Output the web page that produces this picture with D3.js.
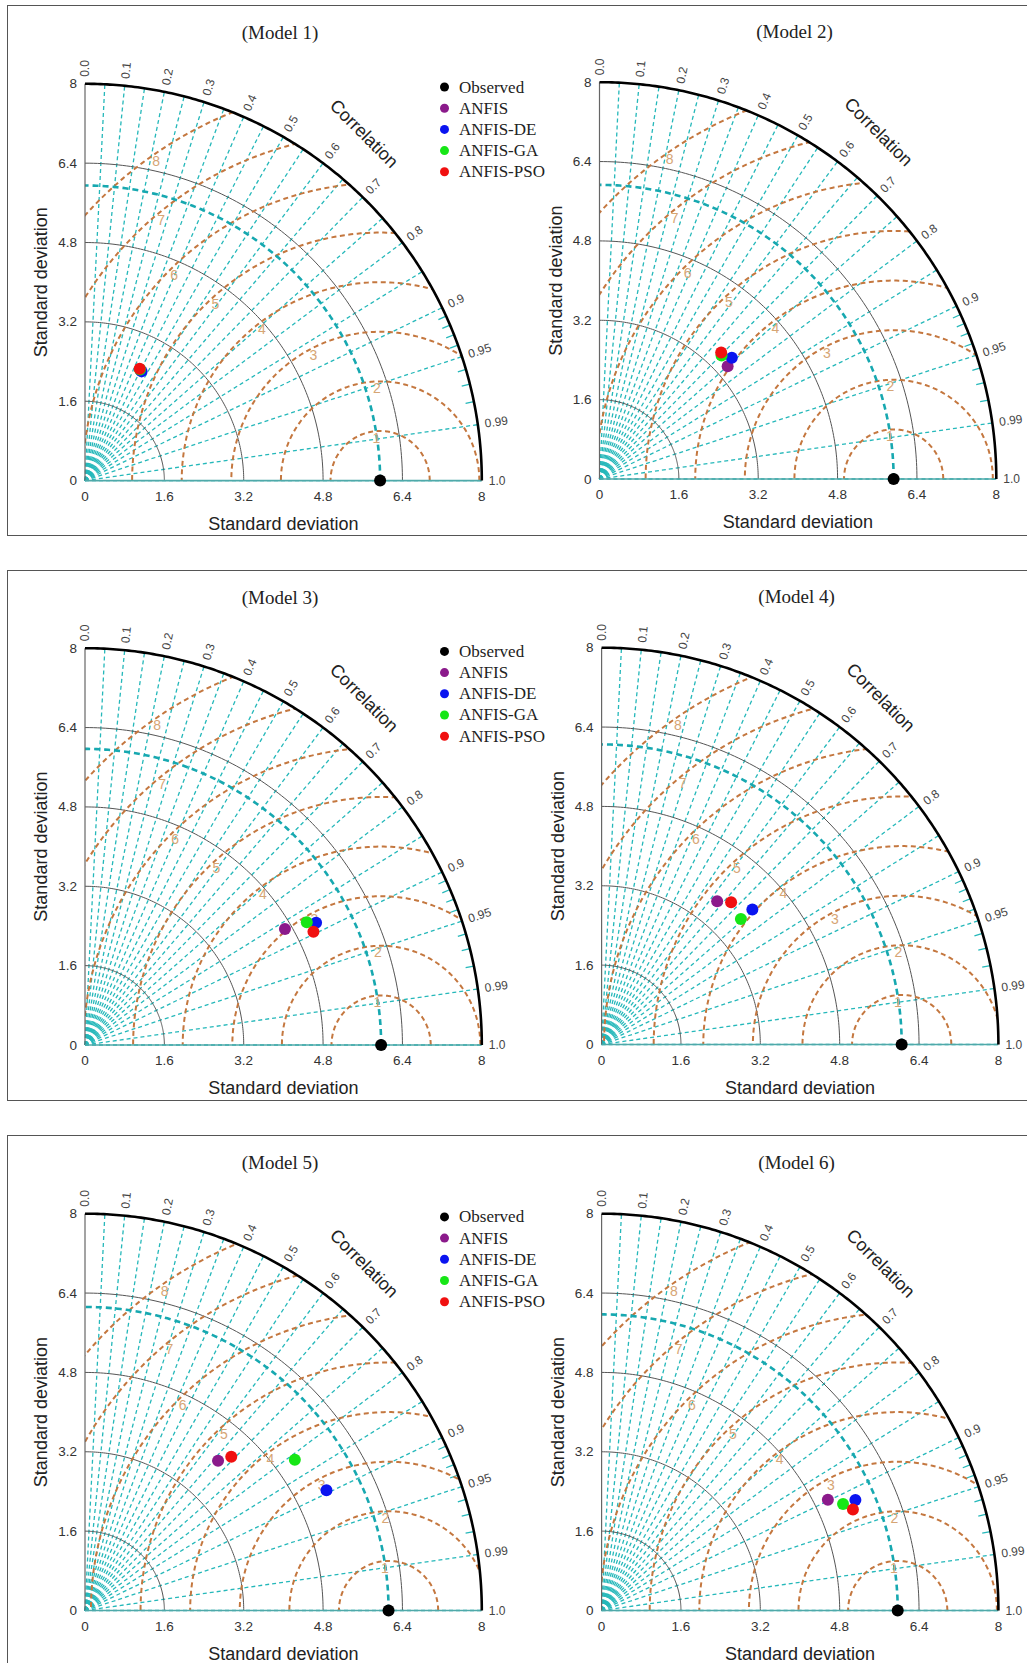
<!DOCTYPE html>
<html>
<head>
<meta charset="utf-8">
<script src="https://cdn.jsdelivr.net/npm/d3@7"></script>
<style>
  body { margin: 0; background: #fff; }
  text { font-family: "Liberation Sans", Arial, sans-serif; }
  .serif { font-family: "Liberation Serif", "Times New Roman", serif; }
</style>
</head>
<body>
<div id="chart"></div>
<script>
// ---- data ----
const modelTitles = ["(Model 1)", "(Model 2)", "(Model 3)", "(Model 4)", "(Model 5)", "(Model 6)"];
const seriesNames = ["ANFIS", "ANFIS-DE", "ANFIS-GA", "ANFIS-PSO"];
const seriesColors = ["#8b1a8b", "#0a14f0", "#16e616", "#f01010"];
const observedSD = [5.95, 5.93, 5.97, 6.05, 6.12, 5.97];
// standard deviation of each series, per model (ANFIS, DE, GA, PSO)
const modelSD = [
  [2.49, 2.48, 2.50, 2.51],
  [3.44, 3.62, 3.50, 3.54],
  [4.66, 5.27, 5.11, 5.14],
  [3.71, 4.08, 3.78, 3.88],
  [4.04, 5.44, 5.21, 4.28],
  [5.08, 5.58, 5.32, 5.46]
];
// correlation of each series, per model
const modelCorr = [
  [0.450, 0.460, 0.444, 0.439],
  [0.751, 0.737, 0.703, 0.693],
  [0.865, 0.884, 0.875, 0.896],
  [0.628, 0.745, 0.743, 0.673],
  [0.664, 0.895, 0.812, 0.689],
  [0.898, 0.917, 0.915, 0.928]
];
const sdTicks = [0, 1.6, 3.2, 4.8, 6.4, 8];
const corrTicks = [0, 0.1, 0.2, 0.3, 0.4, 0.5, 0.6, 0.7, 0.8, 0.9, 0.95, 0.99, 1.0];
const corrTickLabels = ["0.0", "0.1", "0.2", "0.3", "0.4", "0.5", "0.6", "0.7", "0.8", "0.9", "0.95", "0.99", "1.0"];
const corrGrid = [0.05, 0.1, 0.15, 0.2, 0.25, 0.3, 0.35, 0.4, 0.45, 0.5, 0.55, 0.6, 0.65, 0.7, 0.75, 0.8, 0.85, 0.9, 0.95, 0.99, 1.0];
const corrMinor = [0.91, 0.92, 0.93, 0.94, 0.96, 0.97, 0.98];
const rmsLevels = [1, 2, 3, 4, 5, 6, 7, 8];
const rmsLabelAngle = [95, 92, 118, 128, 133, 135, 130, 125];

// ---- layout ----
const width = 1027, height = 1663;
const sdMax = 8, unit = 49.6;
const panelOrigins = [[85, 480.6], [599.5, 479], [85, 1045], [601.6, 1044.5], [85, 1610.5], [601.6, 1610.5]];
const rowTops = [5.5, 570.5, 1135.5];

const cyan = "#25b8ba", brown = "#c4773f";

const svg = d3.select("#chart").append("svg")
  .attr("width", width)
  .attr("height", height);

svg.append("rect").attr("width", width).attr("height", height).attr("fill", "#fff");

rowTops.forEach(t => {
  svg.append("rect")
    .attr("x", 7.5).attr("y", t)
    .attr("width", 1100).attr("height", 530)
    .attr("fill", "none")
    .attr("stroke", "#555")
    .attr("stroke-width", 1);
});

function arcPoints(cx, cy, r, a0, a1, n) {
  const pts = [];
  for (let i = 0; i <= n; i++) {
    const a = a0 + (a1 - a0) * i / n;
    pts.push([cx + r * Math.cos(a), cy + r * Math.sin(a)]);
  }
  return pts;
}

modelTitles.forEach((title, p) => {
  const [ox, oy] = panelOrigins[p];
  const x = d3.scaleLinear().domain([0, sdMax]).range([ox, ox + sdMax * unit]);
  const y = d3.scaleLinear().domain([0, sdMax]).range([oy, oy - sdMax * unit]);
  const line = d3.line().x(d => x(d[0])).y(d => y(d[1]));
  const obs = observedSD[p];
  const g = svg.append("g");

  const clipId = "clip" + p;
  svg.append("clipPath").attr("id", clipId)
    .append("path")
    .attr("d", line([[0, 0]].concat(arcPoints(0, 0, sdMax, 0, Math.PI / 2, 120))) + "Z");

  // correlation radial lines
  g.selectAll(".corr").data(corrGrid).enter().append("path")
    .attr("d", c => line([[0, 0], [sdMax * c, sdMax * Math.sqrt(1 - c * c)]]))
    .attr("stroke", cyan)
    .attr("stroke-width", 1.3)
    .attr("stroke-dasharray", "4,3")
    .attr("fill", "none");

  // minor ticks on the outer arc
  g.selectAll(".minor").data(corrMinor).enter().append("path")
    .attr("d", c => {
      const s = Math.sqrt(1 - c * c);
      return line([[(sdMax - 0.17) * c, (sdMax - 0.17) * s], [sdMax * c, sdMax * s]]);
    })
    .attr("stroke", cyan)
    .attr("stroke-width", 1.3);

  // standard deviation arcs
  g.selectAll(".sd").data(sdTicks.filter(v => v > 0 && v < sdMax)).enter().append("path")
    .attr("d", v => line(arcPoints(0, 0, v, 0, Math.PI / 2, 120)))
    .attr("stroke", "#555")
    .attr("stroke-width", 1)
    .attr("fill", "none");

  // centred RMS difference contours
  const rms = g.append("g").attr("clip-path", `url(#${clipId})`);
  rms.selectAll("path").data(rmsLevels).enter().append("path")
    .attr("d", k => line(arcPoints(obs, 0, k, 0, Math.PI, 240)))
    .attr("stroke", brown)
    .attr("stroke-width", 2)
    .attr("stroke-dasharray", "5,3.5")
    .attr("fill", "none");

  // observed standard deviation arc
  g.append("path")
    .attr("d", line(arcPoints(0, 0, obs, 0, Math.PI / 2, 160)))
    .attr("stroke", "#17a8b0")
    .attr("stroke-width", 2.6)
    .attr("stroke-dasharray", "6,4")
    .attr("fill", "none");

  // RMS labels
  g.selectAll(".rmslab").data(rmsLevels).enter().append("text")
    .attr("x", (k, i) => x(obs + (k - 0.13) * Math.cos(rmsLabelAngle[i] * Math.PI / 180)))
    .attr("y", (k, i) => y((k - 0.13) * Math.sin(rmsLabelAngle[i] * Math.PI / 180)))
    .attr("text-anchor", "middle")
    .attr("dominant-baseline", "central")
    .attr("font-size", 14)
    .attr("fill", "#d6a574")
    .text(k => k);

  // axes
  g.append("path").attr("d", line([[0, 0], [0, sdMax]]))
    .attr("stroke", "#666").attr("stroke-width", 1.2);
  g.append("path").attr("d", line([[0, 0], [sdMax, 0]]))
    .attr("stroke", "#4fa9a9").attr("stroke-width", 1.6);
  g.append("path")
    .attr("d", line(arcPoints(0, 0, sdMax, 0, Math.PI / 2, 200)))
    .attr("stroke", "#000")
    .attr("stroke-width", 2.6)
    .attr("fill", "none");

  // sd tick labels
  g.selectAll(".xl").data(sdTicks).enter().append("text")
    .attr("x", v => x(v)).attr("y", oy + 20)
    .attr("text-anchor", "middle")
    .attr("font-size", 13.5).attr("fill", "#333")
    .text(v => v);
  g.selectAll(".yl").data(sdTicks).enter().append("text")
    .attr("x", ox - 8).attr("y", v => y(v))
    .attr("text-anchor", "end")
    .attr("dominant-baseline", "central")
    .attr("font-size", 13.5).attr("fill", "#333")
    .text(v => v);

  // correlation tick labels
  g.selectAll(".cl").data(corrTicks).enter().append("text")
    .attr("transform", c => {
      const th = Math.acos(c);
      const px = x(sdMax * c) + 7 * Math.cos(th);
      const py = y(sdMax * Math.sin(th)) - 7 * Math.sin(th);
      return `translate(${px},${py}) rotate(${-th * 180 / Math.PI})`;
    })
    .attr("dominant-baseline", "central")
    .attr("font-size", 12).attr("fill", "#444")
    .text((c, i) => corrTickLabels[i]);

  g.append("text")
    .attr("transform", `translate(${ox + 279},${oy - 347}) rotate(45)`)
    .attr("text-anchor", "middle")
    .attr("dominant-baseline", "central")
    .attr("font-size", 18).attr("fill", "#222")
    .text("Correlation");

  // axis titles
  g.append("text")
    .attr("x", x(4)).attr("y", oy + 49)
    .attr("text-anchor", "middle")
    .attr("font-size", 18).attr("fill", "#222")
    .text("Standard deviation");
  g.append("text")
    .attr("transform", `translate(${ox - 44},${y(4)}) rotate(-90)`)
    .attr("text-anchor", "middle")
    .attr("dominant-baseline", "central")
    .attr("font-size", 18).attr("fill", "#222")
    .text("Standard deviation");

  g.append("text")
    .attr("class", "serif")
    .attr("x", ox + 195).attr("y", oy - 448)
    .attr("text-anchor", "middle")
    .attr("dominant-baseline", "central")
    .attr("font-size", 19).attr("fill", "#222")
    .text(title);

  // points
  g.append("circle")
    .attr("cx", x(obs)).attr("cy", y(0)).attr("r", 6)
    .attr("fill", "#000");
  seriesNames.forEach((name, s) => {
    const sd = modelSD[p][s], c = modelCorr[p][s];
    g.append("circle")
      .attr("cx", x(sd * c))
      .attr("cy", y(sd * Math.sqrt(1 - c * c)))
      .attr("r", 6)
      .attr("fill", seriesColors[s]);
  });

  // legend on the left panel of each row
  if (p % 2 === 0) {
    const names = ["Observed"].concat(seriesNames);
    const cols = ["#000"].concat(seriesColors);
    const lg = g.append("g").attr("transform", `translate(${ox + 359.5},${oy - 393.6})`);
    names.forEach((n, i) => {
      lg.append("circle").attr("cx", 0).attr("cy", i * 21.2).attr("r", 4.5).attr("fill", cols[i]);
      lg.append("text")
        .attr("class", "serif")
        .attr("x", 14.5).attr("y", i * 21.2)
        .attr("dominant-baseline", "central")
        .attr("font-size", 17).attr("fill", "#222")
        .text(n);
    });
  }
});
</script>
</body>
</html>
